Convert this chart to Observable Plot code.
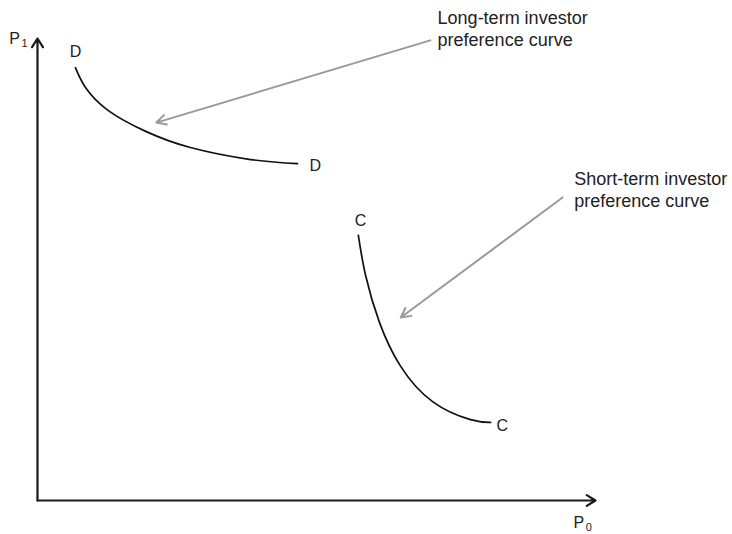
<!DOCTYPE html>
<html>
<head>
<meta charset="utf-8">
<script src="https://cdn.jsdelivr.net/npm/d3@7"></script>
<script src="https://cdn.jsdelivr.net/npm/@observablehq/plot@0.6"></script>
<style>
  html, body { margin: 0; padding: 0; background: #fff; }
  svg { display: block; }
</style>
</head>
<body>
<div id="chart"></div>
<script>
// Long-term investor preference curve (D)
const curveD = [
  {x: 6.8, y: 93.7}, {x: 8.6, y: 89.4},
  {x: 12.7, y: 84.4}, {x: 19.4, y: 79.9},
  {x: 27.4, y: 76.4}, {x: 38.2, y: 73.8},
  {x: 46.6, y: 72.9}
];
// Short-term investor preference curve (C)
const curveC = [
  {x: 57.5, y: 57.4}, {x: 58.8, y: 48.7},
  {x: 61.3, y: 38.5}, {x: 65.0, y: 29.2},
  {x: 70.8, y: 21.4}, {x: 77.6, y: 17.5}, {x: 81.2, y: 16.9}
];
// Curve end labels
const curveLabels = [
  {x: 6.8, y: 97.0, text: "D"},
  {x: 49.8, y: 72.5, text: "D"},
  {x: 57.9, y: 60.6, text: "C"},
  {x: 83.3, y: 16.2, text: "C"}
];
// Axes (with arrowheads)
const axes = [
  {x1: 0, y1: 0, x2: 0, y2: 100},
  {x1: 0, y1: 0, x2: 100, y2: 0}
];
// Callout notes and pointer arrows
const notes = [
  {x: 71.7, y: 102.2, text: "Long-term investor\npreference curve"},
  {x: 96.2, y: 67.4, text: "Short-term investor\npreference curve"}
];
const pointers = [
  {x1: 70.4, y1: 99.6, x2: 21.3, y2: 81.8},
  {x1: 94.1, y1: 65.6, x2: 65.1, y2: 39.6}
];
// Axis titles
const axisTitles = [
  {x: -4.1, y: 100, main: "P", sub: "1"},
  {x: 97.0, y: -4.8, main: "P", sub: "0"}
];

const font = "'Liberation Sans', Arial, Helvetica, sans-serif";

const chart = Plot.plot({
  width: 732,
  height: 534,
  marginLeft: 37,
  marginRight: 137,
  marginTop: 38,
  marginBottom: 34,
  style: {fontFamily: font, background: "#fff", overflow: "visible"},
  x: {domain: [0, 100], axis: null},
  y: {domain: [0, 100], axis: null},
  marks: [
    Plot.arrow(axes, {x1: "x1", y1: "y1", x2: "x2", y2: "y2",
      stroke: "#1a1a1a", strokeWidth: 2.2, headLength: 7, headAngle: 64}),
    Plot.line(curveD, {x: "x", y: "y", curve: "natural", stroke: "#111", strokeWidth: 1.7}),
    Plot.line(curveC, {x: "x", y: "y", curve: "natural", stroke: "#111", strokeWidth: 1.7}),
    Plot.arrow(pointers, {x1: "x1", y1: "y1", x2: "x2", y2: "y2",
      stroke: "#9a9a9a", strokeWidth: 2, headLength: 8, headAngle: 55}),
    Plot.text(curveLabels, {x: "x", y: "y", text: "text", fontSize: 16, fill: "#222"}),
    Plot.text(notes, {x: "x", y: "y", text: "text", fontSize: 18, fill: "#222",
      textAnchor: "start", lineHeight: 1.2}),
    Plot.text(axisTitles, {x: "x", y: "y", text: "main", fontSize: 16, fill: "#222"}),
    Plot.text(axisTitles, {x: "x", y: "y", text: "sub", fontSize: 11, fill: "#222",
      dx: 10, dy: 5})
  ]
});
document.getElementById("chart").appendChild(chart);
</script>
</body>
</html>
